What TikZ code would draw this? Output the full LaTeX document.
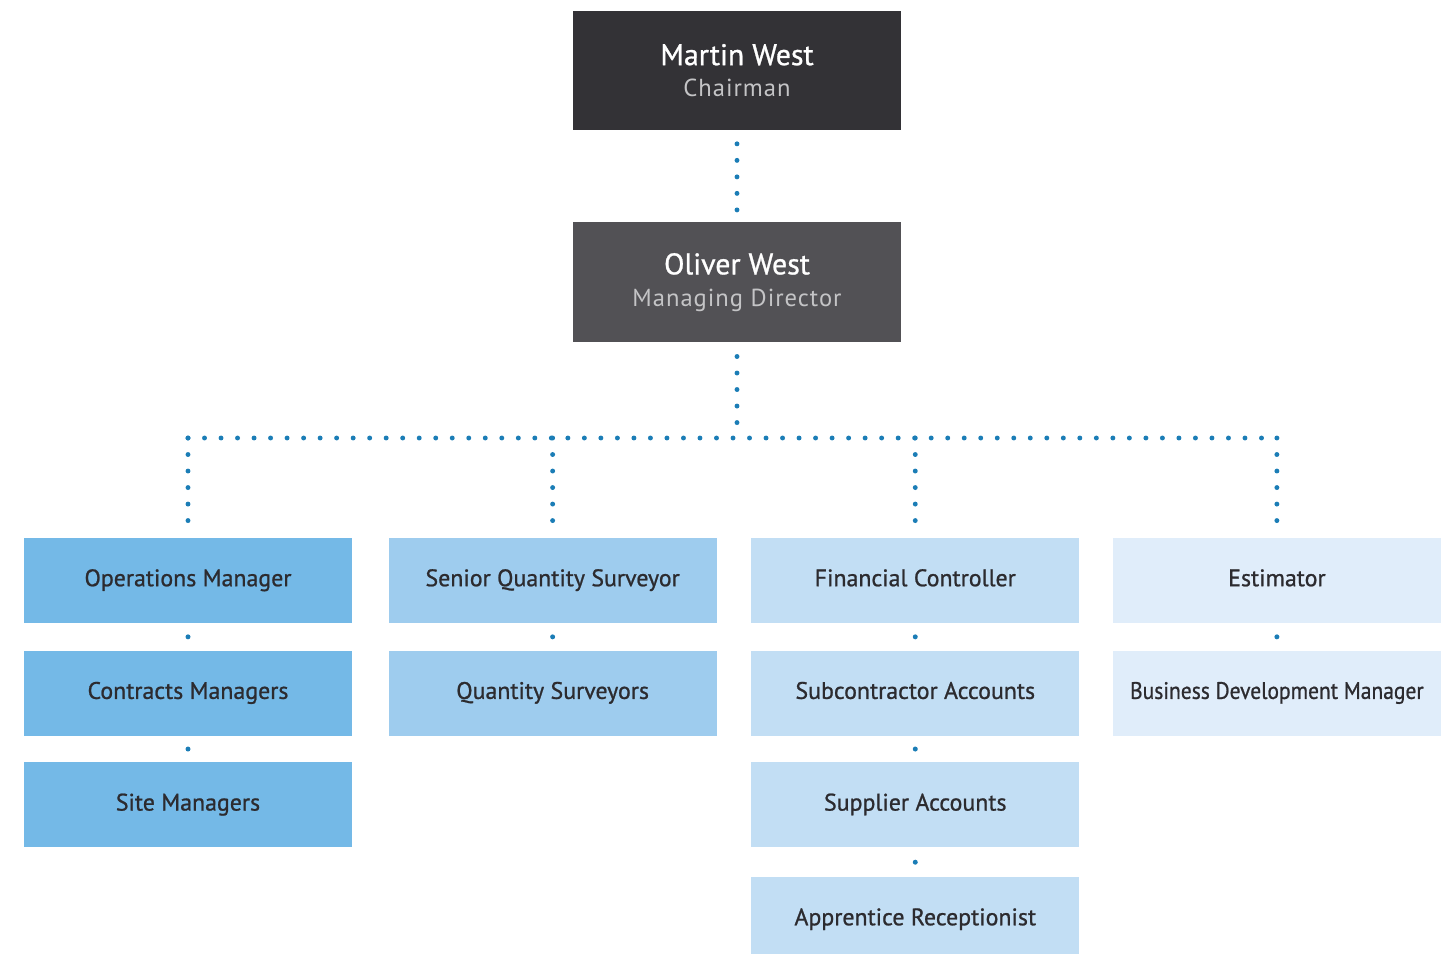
\documentclass[tikz,border=0pt]{standalone}
\usepackage{fontspec}
\usepackage{graphicx}
\setmainfont{PT Sans}
\newfontfamily\rolefont[FakeBold=0.9]{PT Sans}
\newfontfamily\subfont[LetterSpace=4]{PT Sans}
\usetikzlibrary{positioning}

\definecolor{headdark}{HTML}{333236}
\definecolor{headmid}{HTML}{525155}
\definecolor{subgrey}{HTML}{C4C4C6}
\definecolor{ops}{HTML}{74B9E7}
\definecolor{qs}{HTML}{9ECCEE}
\definecolor{fin}{HTML}{C2DEF4}
\definecolor{est}{HTML}{E0EDFA}
\definecolor{dotblue}{HTML}{1B7DB6}
\definecolor{txt}{HTML}{2C2B2F}

\tikzset{
	head/.style={minimum width=6.56cm, minimum height=2.4cm, inner sep=0pt, align=center, text=white},
	role/.style={minimum width=6.56cm, minimum height=1.7cm, inner sep=0pt, text=txt,
		text height=9.5pt, text depth=3pt, font=\rolefont\fontsize{13.6}{16}\selectfont},
	link/.style={dotblue, line width=2.8pt, line cap=round, dash pattern=on 0pt off 9.4pt},
	dotmark/.style={circle, fill=dotblue, inner sep=0pt, minimum size=0.1cm},
}

\newcommand{\headtext}[2]{{\rolefont\fontsize{17}{20}\selectfont #1}\\[6pt]{\subfont\fontsize{14}{17}\selectfont\color{subgrey}#2}}

\begin{document}
\begin{tikzpicture}[x=0.02cm, y=-0.02cm]
	\useasboundingbox (0,0) rectangle (1455,954);

	% Board
	\node [head, fill=headdark] (chair) at (737,70.5) {\headtext{Martin West}{Chairman}};
	\node [head, fill=headmid, below=1.82cm of chair] (md) {\headtext{Oliver West}{Managing Director}};
	\coordinate (bus) at (737,438);

	% Operations
	\node [role, fill=ops] (om) at (188,580.5) {Operations Manager};
	\node [role, fill=ops, below=0.54cm of om] (cm) {Contracts Managers};
	\node [role, fill=ops, below=0.52cm of cm] (sm) {Site Managers};

	% Surveying
	\node [role, fill=qs, right=0.72cm of om] (sqs) {Senior Quantity Surveyor};
	\node [role, fill=qs, below=0.54cm of sqs] (qsv) {Quantity Surveyors};

	% Finance
	\node [role, fill=fin, right=0.68cm of sqs] (fc) {Financial Controller};
	\node [role, fill=fin, below=0.54cm of fc] (sca) {Subcontractor Accounts};
	\node [role, fill=fin, below=0.52cm of sca] (spa) {Supplier Accounts};
	\node [role, fill=fin, below=0.58cm of spa] (ar) {Apprentice Receptionist};

	% Estimating
	\node [role, fill=est, right=0.66cm of fc] (est) {Estimator};
	\node [role, fill=est, below=0.54cm of est] (bdm) {\scalebox{0.9}[1]{Business Development Manager}};

	% Links
	\draw [link, shorten <=0.26cm, shorten >=0.22cm] (chair) -- (md);
	\draw [link, shorten <=0.28cm] (md) -- (bus);
	\draw [link] (om |- bus) -- (sqs |- bus) -- (fc |- bus) -- (est |- bus);
	\foreach \n in {om, sqs, fc, est} {
		\draw [link, shorten >=0.34cm] (\n |- bus) -- (\n.north);
	}
	\foreach \a/\b in {om/cm, cm/sm, sqs/qsv, fc/sca, sca/spa, spa/ar, est/bdm} {
		\path (\a.south) -- node [dotmark] {} (\b.north);
	}
\end{tikzpicture}
\end{document}
